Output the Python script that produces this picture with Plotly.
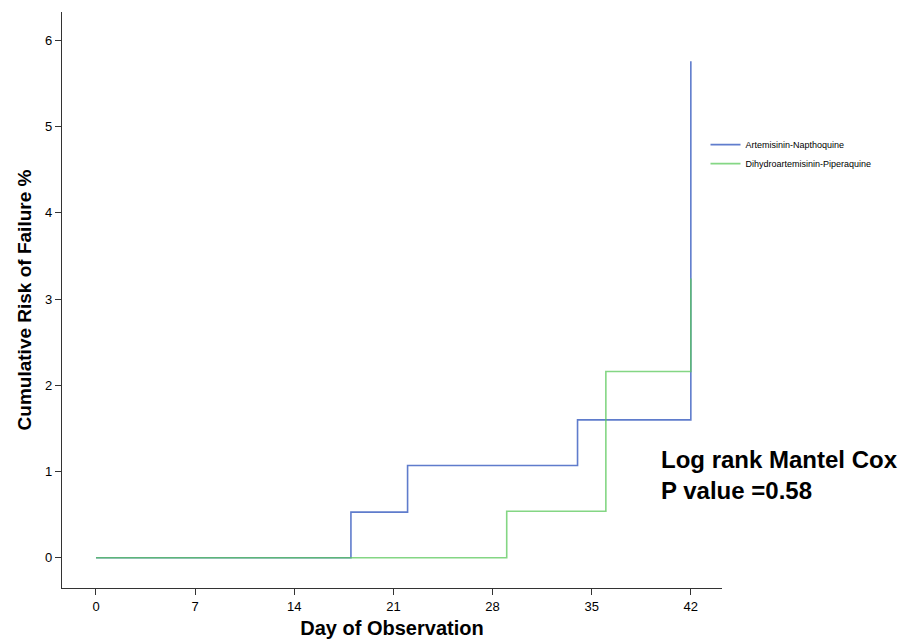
import plotly.graph_objects as go

days_an = [0, 18, 22, 34, 42]
risk_an = [0, 0.53, 1.07, 1.60, 5.76]
days_dp = [0, 29, 36, 42]
risk_dp = [0, 0.54, 2.16, 3.24]
x_ticks = [0, 7, 14, 21, 28, 35, 42]
y_ticks = [0, 1, 2, 3, 4, 5, 6]

fig = go.Figure()
fig.add_trace(go.Scatter(x=days_an, y=risk_an, mode="lines", line=dict(shape="hv", color="#4466c4", width=1.6),
                         opacity=0.85, name="Artemisinin-Napthoquine"))
fig.add_trace(go.Scatter(x=days_dp, y=risk_dp, mode="lines", line=dict(shape="hv", color="#5cc95c", width=1.6),
                         opacity=0.75, name="Dihydroartemisinin-Piperaquine"))

fig.add_annotation(xref="paper", yref="paper", x=0.905, y=0.25, xanchor="left", yanchor="top",
                   text="<b>Log rank Mantel Cox<br>P value =0.58</b>", align="left", showarrow=False,
                   font=dict(family="Liberation Sans, Arial", size=24, color="black"))

fig.update_layout(
    width=924, height=644,
    margin=dict(l=62, r=202, t=12, b=56),
    plot_bgcolor="white", paper_bgcolor="white",
    font=dict(family="Liberation Sans, Arial", color="black"),
    showlegend=True,
    legend=dict(x=0.975, y=0.795, xanchor="left", yanchor="top", font=dict(size=9, color="black"),
                bgcolor="rgba(0,0,0,0)", tracegroupgap=0, itemwidth=30),
    xaxis=dict(range=[-2.4, 44.2], tickvals=x_ticks, showgrid=False, zeroline=False, automargin=False,
               showline=True, linecolor="#333", linewidth=1.2, ticks="outside", ticklen=6, tickcolor="#333",
               tickfont=dict(size=13), title=dict(text="<b>Day of Observation</b>", font=dict(size=20), standoff=8)),
    yaxis=dict(range=[-0.35, 6.33], tickvals=y_ticks, showgrid=False, zeroline=False, automargin=False,
               showline=True, linecolor="#333", linewidth=1.2, ticks="outside", ticklen=6, tickcolor="#333",
               tickfont=dict(size=13), title=dict(text="<b>Cumulative Risk of Failure %</b>", font=dict(size=19), standoff=8)),
)

fig.write_html("out.html")
